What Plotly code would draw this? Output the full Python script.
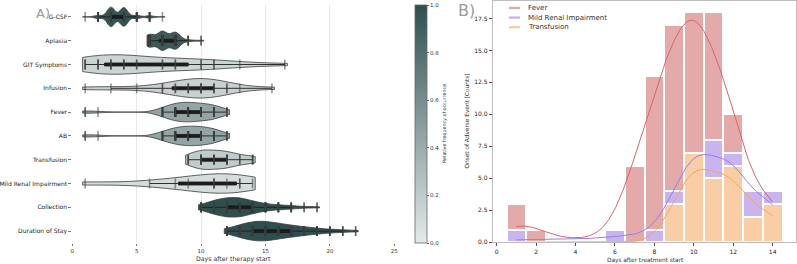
import numpy as np
import plotly.graph_objects as go

# ---------------- data ----------------
categories = ["G-CSF", "Aplasia", "GIT Symptoms", "Infusion", "Fever", "AB",
              "Transfusion", "Mild Renal Impairment", "Collection", "Duration of Stay"]
rel_freq = [0.97, 0.93, 0.14, 0.16, 0.45, 0.45, 0.20, 0.09, 1.0, 1.0]

gcsf_days = [1, 2, 3, 4, 5, 6, 7]
gcsf_counts = [1, 8, 50, 48, 8, 6, 1]
aplasia_days = [6, 7, 8, 9, 10]
aplasia_counts = [30, 45, 40, 4, 2]
git_days = [1, 2, 3, 4, 5, 7, 8, 10, 11, 13, 16.5]
git_counts = [3, 3, 3, 3, 2, 2, 2, 2, 2, 1, 1]
infusion_days = [1, 3, 5, 7, 8, 9, 10, 11, 12, 13, 15.5]
infusion_counts = [1, 1, 1, 2, 2, 3, 4, 3, 2, 1, 1]
fever_days = [1, 2, 7, 8, 9, 10, 11, 12]
fever_counts = [2, 1, 6, 12, 13, 11, 10, 3]
ab_days = [1, 2, 7, 8, 9, 10, 11, 12]
ab_counts = [2, 1, 6, 11, 13, 12, 10, 3]
transfusion_days = [9, 10, 11, 12, 13, 14]
transfusion_counts = [3, 7, 5, 6, 2, 3]
renal_days = [1, 6, 8, 9, 11, 12, 13, 14]
renal_counts = [1, 1, 1, 1, 3, 1, 2, 1]
collection_days = [10, 11, 12, 13, 14, 15, 16, 17, 18, 19]
collection_counts = [8, 20, 28, 28, 18, 10, 7, 5, 2, 2]
stay_days = [12, 13, 14, 15, 16, 17, 18, 19, 20, 21, 22]
stay_counts = [5, 15, 25, 25, 18, 14, 10, 7, 4, 3, 2]

violin_tables = [
    (gcsf_days, gcsf_counts), (aplasia_days, aplasia_counts),
    (git_days, git_counts), (infusion_days, infusion_counts),
    (fever_days, fever_counts), (ab_days, ab_counts),
    (transfusion_days, transfusion_counts), (renal_days, renal_counts),
    (collection_days, collection_counts), (stay_days, stay_counts),
]

hist_names = ["Fever", "Mild Renal Impairment", "Transfusion"]
hist_tables = [(fever_days, fever_counts), (renal_days, renal_counts),
               (transfusion_days, transfusion_counts)]
bar_colors = ["#e4aaaa", "#c9b4f0", "#f9cda5"]
line_colors = ["#d9646a", "#9c7de6", "#f4a562"]

# ---------------- figure ----------------
W, H = 797, 264
def px(x):
    return x / W
def py(y):
    return 1 - y / H

cscale = [[0, "#e4eaea"], [1, "#2f4f4f"]]
def cmap(t):
    a = np.array([0xe4, 0xea, 0xea], float)
    b = np.array([0x2f, 0x4f, 0x4f], float)
    c = a + (b - a) * t
    return "rgb(%d,%d,%d)" % tuple(np.round(c))

FONT = "DejaVu Sans"
fig = go.Figure()

for cat, (days, cnts), f in zip(categories, violin_tables, rel_freq):
    vals = np.repeat(np.asarray(days, float), cnts)
    fig.add_trace(go.Violin(
        x=vals, y=[cat] * len(vals), orientation="h",
        fillcolor=cmap(f), opacity=1,
        line=dict(color="#3c3c3c", width=0.8),
        width=0.82, scalemode="width",
        spanmode="manual", span=[vals.min() - 0.2, vals.max() + 0.2],
        box=dict(visible=True, width=0.15, fillcolor="#1c1c1c",
                 line=dict(color="#1c1c1c", width=0.9)),
        meanline=dict(visible=False),
        points="all", pointpos=0, jitter=0,
        marker=dict(symbol="line-ns-open", size=7, opacity=0.55,
                    line=dict(color="#7f9e9e", width=1.6)),
        showlegend=False, hoverinfo="skip",
        xaxis="x", yaxis="y",
    ))

# colorbar carrier
fig.add_trace(go.Scatter(
    x=[None], y=[None], mode="markers", showlegend=False, hoverinfo="skip",
    marker=dict(color=[0], colorscale=cscale, cmin=0, cmax=1, showscale=True,
                colorbar=dict(
                    x=px(415), xanchor="left", xref="paper",
                    y=py(124), yanchor="middle", yref="paper",
                    len=238 / H, lenmode="fraction",
                    thickness=12, thicknessmode="pixels",
                    xpad=0, ypad=0, outlinewidth=0.8, outlinecolor="#666",
                    tickvals=[0, 0.2, 0.4, 0.6, 0.8, 1.0],
                    ticktext=["0.0", "0.2", "0.4", "0.6", "0.8", "1.0"],
                    ticks="outside", ticklen=2, tickcolor="#666",
                    tickfont=dict(size=5.5, color="#333", family=FONT),
                )),
    xaxis="x", yaxis="y",
))

# right panel: stacked histogram + stacked KDEs
all_vals = [np.repeat(np.asarray(d, float), c) for d, c in hist_tables]
for name, (days, cnts), col in reversed(list(zip(hist_names, hist_tables, bar_colors))):
    fig.add_trace(go.Bar(
        x=days, y=cnts, width=1, name=name,
        marker=dict(color=col, line=dict(color="white", width=2)),
        showlegend=False, hoverinfo="skip", xaxis="x2", yaxis="y2",
    ))

lo = min(v.min() for v in all_vals)
hi = max(v.max() for v in all_vals)
grid = np.linspace(lo, hi, 300)

def kde_counts(v, g):
    n = v.size
    bw = v.std(ddof=1) * n ** (-1 / 5)
    d = np.exp(-0.5 * ((g[:, None] - v[None, :]) / bw) ** 2).sum(1) / (n * bw * np.sqrt(2 * np.pi))
    return d * n

kdes = [kde_counts(v, grid) for v in all_vals]
stack = np.zeros_like(grid)
stacked = []
for k in reversed(kdes):
    stack = stack + k
    stacked.append(stack.copy())
stacked = list(reversed(stacked))
for name, ys, col in zip(hist_names, stacked, line_colors):
    fig.add_trace(go.Scatter(x=grid, y=ys, mode="lines", line=dict(color=col, width=1),
                             showlegend=False, hoverinfo="skip", xaxis="x2", yaxis="y2"))

fig.update_layout(
    template="none",
    width=W, height=H, margin=dict(l=0, r=0, t=0, b=0),
    paper_bgcolor="white", plot_bgcolor="white",
    barmode="stack", violinmode="overlay",
    font=dict(family=FONT, color="#333"),
    xaxis=dict(domain=[px(72.3), px(394.3)], range=[0, 25], dtick=5,
               showgrid=True, gridcolor="#e8e8e8", gridwidth=0.8, zeroline=False,
               showline=False, ticks="outside", ticklen=2, tickcolor="#777",
               tickfont=dict(size=5.5, color="#333")),
    yaxis=dict(domain=[py(243), py(5)], type="category",
               categoryorder="array", categoryarray=categories,
               range=[9.5, -0.5], showgrid=False, zeroline=False, showline=False,
               ticks="outside", ticklen=3, tickcolor="#777",
               tickfont=dict(size=6.0, color="#222")),
    xaxis2=dict(domain=[px(492.7), px(796.3)], range=[-0.2, 15.2],
                tickvals=list(range(0, 15, 2)), showgrid=False, zeroline=False,
                showline=True, mirror=True, linecolor="#bdbdbd", linewidth=1,
                ticks="outside", ticklen=3, tickcolor="#555",
                tickfont=dict(size=6, color="#222"), anchor="y2"),
    yaxis2=dict(domain=[py(242.3), py(0.5)], range=[0, 18.9],
                tickvals=[0, 2.5, 5, 7.5, 10, 12.5, 15, 17.5], tickformat=".1f",
                showgrid=False, zeroline=False,
                showline=True, mirror=True, linecolor="#bdbdbd", linewidth=1,
                ticks="outside", ticklen=3, tickcolor="#555",
                tickfont=dict(size=6, color="#222"), anchor="x2"),
)

ann = [
    dict(text="A)", x=px(34), y=py(4), xanchor="left", yanchor="top",
         font=dict(size=13, color="#9a9a9a")),
    dict(text="B)", x=px(456), y=py(-1), xanchor="left", yanchor="top",
         font=dict(size=16, color="#9a9a9a")),
    dict(text="Days after therapy start", x=px(233), y=py(258.5), xanchor="center",
         yanchor="middle", font=dict(size=6.2, color="#333")),
    dict(text="Days after treatment start", x=px(645), y=py(260.5), xanchor="center",
         yanchor="middle", font=dict(size=5.8, color="#333")),
    dict(text="Onset of Adverse Event [Counts]", x=px(466), y=py(121.5), textangle=-90,
         xanchor="center", yanchor="middle", font=dict(size=5.8, color="#333")),
    dict(text="Relative frequency of occurrence", x=px(444), y=py(124), textangle=-90,
         xanchor="center", yanchor="middle", font=dict(size=4.8, color="#333")),
]
leg_y = [8, 17.6, 27.2]
shapes = []
for name, col, yy in zip(hist_names, bar_colors, leg_y):
    ann.append(dict(text=name, x=px(526), y=py(yy), xanchor="left", yanchor="middle",
                    font=dict(size=7, color="#333")))
    shapes.append(dict(type="rect", xref="paper", yref="paper",
                       x0=px(509), x1=px(520), y0=py(yy + 1.2), y1=py(yy - 1.2),
                       fillcolor=col, line=dict(width=0)))
for a in ann:
    a.update(xref="paper", yref="paper", showarrow=False)
fig.update_layout(annotations=ann, shapes=shapes)

fig.write_html("out.html")
